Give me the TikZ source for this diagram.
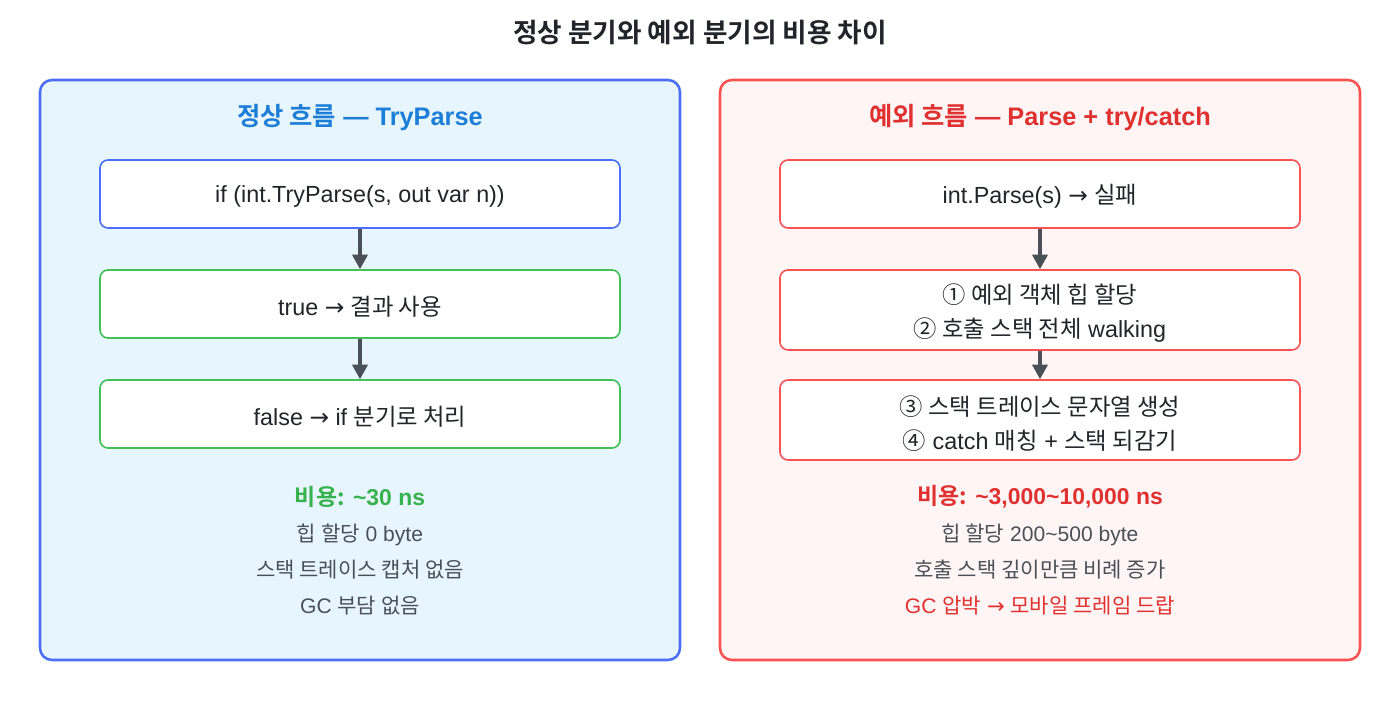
\documentclass[tikz,border=0pt]{standalone}
\usepackage{fontspec}
\setmainfont{Liberation Sans}
\newfontfamily\kr{Noto Sans CJK KR}[BoldFont={Noto Sans CJK KR Bold}]
\newfontfamily\arrfont{DejaVu Sans}
\newcommand{\rarr}{{\arrfont\char"2192}}
\usetikzlibrary{arrows.meta}
\definecolor{bluebd}{HTML}{4C6EF5}
\definecolor{bluebg}{HTML}{E7F5FF}
\definecolor{bluetx}{HTML}{1C7ED6}
\definecolor{greenbd}{HTML}{40C057}
\definecolor{greentx}{HTML}{37B24D}
\definecolor{redbd}{HTML}{FA5252}
\definecolor{redbg}{HTML}{FFF5F5}
\definecolor{redtx}{HTML}{E03131}
\definecolor{graytx}{HTML}{495057}
\definecolor{darktx}{HTML}{212529}
\tikzset{
  panel/.style={rounded corners=9pt, line width=1.9pt, minimum width=480pt, minimum height=435pt, inner sep=0pt},
  stepbox/.style={rounded corners=6pt, line width=1.2pt, fill=white, minimum width=390pt, minimum height=51pt, inner sep=0pt},
  boxtext/.style={inner sep=0pt, align=center, text=darktx, font=\fontsize{17.5}{25.5}\selectfont},
  ptitle/.style={font=\bfseries\fontsize{19}{22}\selectfont},
  costline/.style={font=\bfseries\fontsize{17.2}{20}\selectfont},
  infoline/.style={font=\fontsize{15.8}{19}\selectfont, text=graytx},
  arr/.style={draw=graytx, line width=2.4pt, -{Triangle[length=11pt,width=11.5pt]}}
}
\begin{document}
\begin{tikzpicture}[x=0.75pt,y=-0.75pt]
\useasboundingbox (0,0) rectangle (1400,720);
\node[font=\bfseries\fontsize{20}{24}\selectfont, text=darktx] (title) at (700,33) {\kr 정상 분기와 예외 분기의 비용 차이};
% left panel
\node[panel, draw=bluebd, fill=bluebg] (lp) at (360,370) {};
\node[ptitle, text=bluetx] (lt) at (360,118) {{\kr 정상 흐름} — TryParse};
\node[stepbox, draw=bluebd] (l1) at (360,194) {};
\node[stepbox, draw=greenbd] (l2) at (360,304) {};
\node[stepbox, draw=greenbd] (l3) at (360,414) {};
\node[boxtext] (l1t) at (360,196.5) {if (int.TryParse(s, out var n))};
\node[boxtext] (l2t) at (360,306.5) {true \rarr\ {\kr 결과 사용}};
\node[boxtext] (l3t) at (360,416.5) {false \rarr\ if {\kr 분기로 처리}};
\draw[arr] (l1.south) -- (l2.north);
\draw[arr] (l2.south) -- (l3.north);
\node[costline, text=greentx] (lc) at (360,497) {{\kr 비용:} \textasciitilde30 ns};
\node[infoline] (li1) at (360,535) {{\kr 힙 할당} 0 byte};
\node[infoline] (li2) at (360,570) {\kr 스택 트레이스 캡처 없음};
\node[infoline] (li3) at (360,606) {GC {\kr 부담 없음}};
% right panel
\node[panel, draw=redbd, fill=redbg] (rp) at (1040,370) {};
\node[ptitle, text=redtx] (rt) at (1040,118) {{\kr 예외 흐름} — Parse + try/catch};
\node[stepbox, draw=redbd] (r1) at (1040,194) {};
\node[stepbox, draw=redbd, minimum height=60pt] (r2) at (1040,310) {};
\node[stepbox, draw=redbd, minimum height=60pt] (r3) at (1040,420) {};
\node[boxtext] (r1t) at (1040,196.5) {int.Parse(s) \rarr\ {\kr 실패}};
\node[boxtext] (r2t) at (1040,313.5) {{\kr ① 예외 객체 힙 할당}\\{\kr ② 호출 스택 전체} walking};
\node[boxtext] (r3t) at (1040,423.5) {{\kr ③ 스택 트레이스 문자열 생성}\\{\kr ④} catch {\kr 매칭} + {\kr 스택 되감기}};
\draw[arr] (r1.south) -- (r2.north);
\draw[arr] (r2.south) -- (r3.north);
\node[costline, text=redtx] (rc) at (1040,497) {{\kr 비용:} \textasciitilde3,000\textasciitilde10,000 ns};
\node[infoline] (ri1) at (1040,535) {{\kr 힙 할당} 200\textasciitilde500 byte};
\node[infoline] (ri2) at (1040,570) {\kr 호출 스택 깊이만큼 비례 증가};
\node[infoline, text=redtx] (ri3) at (1040,606) {GC {\kr 압박} \rarr\ {\kr 모바일 프레임 드랍}};
\end{tikzpicture}
\end{document}
